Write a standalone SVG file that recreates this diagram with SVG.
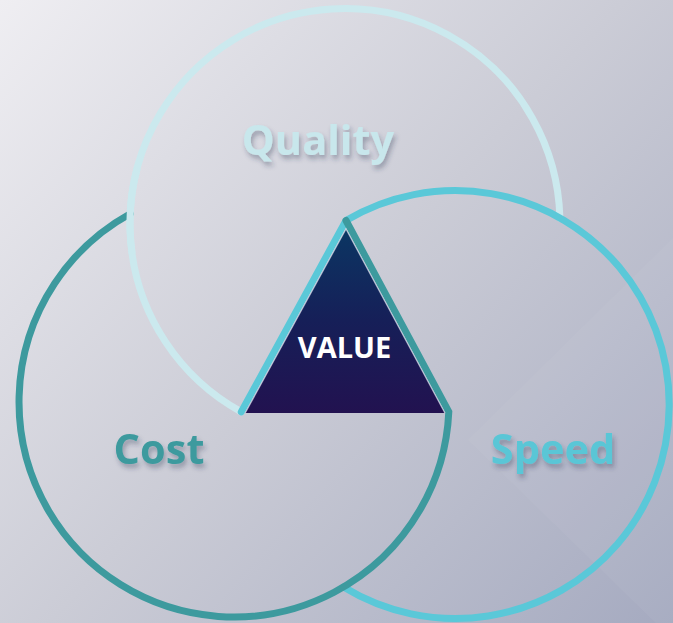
<svg xmlns="http://www.w3.org/2000/svg" width="673" height="623" viewBox="0 0 673 623">
  <defs>
    <linearGradient id="bg" gradientUnits="userSpaceOnUse" x1="0" y1="0" x2="673" y2="623">
      <stop offset="0" stop-color="#efeef2"/>
      <stop offset="0.5" stop-color="#cbccd6"/>
      <stop offset="1" stop-color="#a5aac0"/>
    </linearGradient>
    <linearGradient id="tri" gradientUnits="userSpaceOnUse" x1="0" y1="229" x2="0" y2="413">
      <stop offset="0" stop-color="#0b3663"/>
      <stop offset="0.5" stop-color="#161f58"/>
      <stop offset="1" stop-color="#221250"/>
    </linearGradient>
    <filter id="shadow" x="-20%" y="-30%" width="140%" height="170%">
      <feDropShadow dx="2" dy="4" stdDeviation="2.5" flood-color="#2a3050" flood-opacity="0.35"/>
    </filter>
  </defs>
  <style>
    .ring { fill: none; stroke-width: 7; stroke-linecap: round; stroke-linejoin: miter; }
    .q { stroke: #cbe9ee; }
    .c { stroke: #3d9a9e; }
    .s { stroke: #5ac8d8; }
    .lbl { font-family: "Open Sans", "Liberation Sans", sans-serif; font-weight: 700; font-size: 41.5px; text-anchor: middle; filter: url(#shadow); }
    .val { font-family: "Open Sans", "Liberation Sans", sans-serif; font-weight: 700; font-size: 29px; text-anchor: middle; fill: #ffffff; }
  </style>
  <rect x="0" y="0" width="673" height="623" fill="url(#bg)"/>
  <polygon points="673,238 468,440 673,640" fill="#ffffff" opacity="0.04"/>

  <g id="connectors">
    <path class="ring q" d="M241.3,411.9 A215,215 0 1 1 559.9,217.9"/>
    <path class="ring s" d="M241.3,411.9 L346,220.5 A214,214 0 1 1 343.5,587.1"/>
    <path class="ring c" d="M130.2,213.7 A215,215 0 1 0 448.8,411.8 L346,220.5"/>
    <path class="ring q" style="stroke-linecap:butt" d="M132.1,253.4 A215,215 0 0 1 137.3,167.9"/>
  </g>

  <g id="quality">
    <text class="lbl" x="318" y="155" fill="#c8e7ec">Quality</text>
  </g>
  <g id="cost">
    <text class="lbl" x="159" y="464" fill="#3d9a9e">Cost</text>
  </g>
  <g id="speed">
    <text class="lbl" x="553" y="464" fill="#5ac6d6">Speed</text>
  </g>
  <g id="value">
    <polygon points="346,228.9 245.2,413 444.9,413" fill="url(#tri)"/>
    <polyline points="245.2,413 346,228.9 444.9,413" fill="none" stroke="#d6dceb" stroke-opacity="0.7" stroke-width="1.3"/>
    <text class="val" x="344.5" y="357.5">VALUE</text>
  </g>
</svg>
